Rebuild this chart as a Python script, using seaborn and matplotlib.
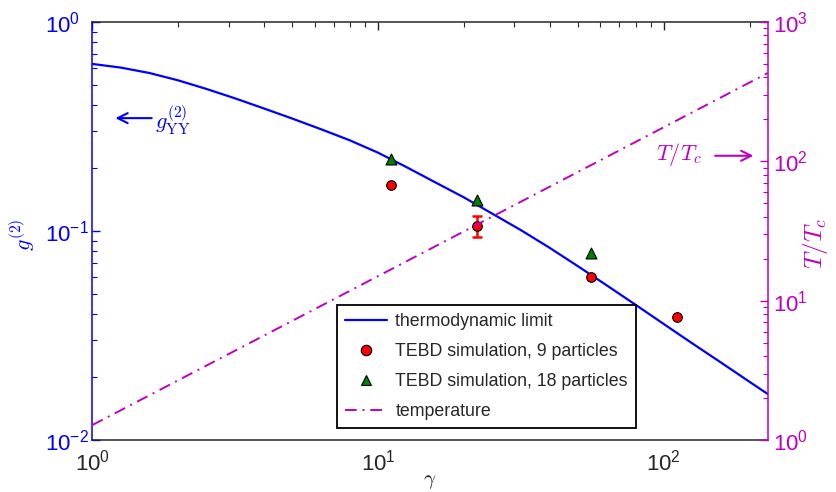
import matplotlib
matplotlib.use("Agg")
import matplotlib.pyplot as plt
import seaborn as sns
import numpy as np
import pandas as pd
from matplotlib.lines import Line2D
from matplotlib.ticker import LogLocator, NullFormatter

# ---------------- data ----------------
gamma_curve = [1, 1.259, 1.585, 1.995, 2.512, 3.162, 3.981, 5.012, 6.310, 7.943,
               10, 12.59, 15.85, 19.95, 25.12, 31.62, 39.81, 50.12, 63.10, 79.43,
               100, 125.9, 158.5, 199.5, 231.2]
g2_curve = [0.630, 0.605, 0.570, 0.526, 0.478, 0.431, 0.386, 0.345, 0.307, 0.272,
            0.237, 0.202, 0.171, 0.145, 0.121, 0.101, 0.0832, 0.0678, 0.0550, 0.0445,
            0.0359, 0.0290, 0.0235, 0.0190, 0.0166]

gamma_9 = [11.1, 22.2, 55.6, 111]
g2_9 = [0.1666, 0.1057, 0.0604, 0.0389]
g2_9_err = [0.0, 0.0124, 0.0, 0.0]

gamma_18 = [11.1, 22.2, 55.6]
g2_18 = [0.221, 0.1406, 0.0787]

gamma_T = [1, 231.2]
T_ratio = [1.28, 430]

xticks = [1, 10, 100]
yticks_left = [0.01, 0.1, 1]
yticks_right = [1, 10, 100, 1000]

legend_labels = ["thermodynamic limit", "TEBD simulation, 9 particles",
                 "TEBD simulation, 18 particles", "temperature"]

# ---------------- style ----------------
sns.set_style("white")
plt.rcParams['font.family'] = ['Liberation Sans', 'DejaVu Sans']
plt.rcParams['mathtext.fontset'] = 'cm'

BLUE = '#0000FF'
MAG = '#C000C0'
RED = '#FF0000'
GREEN = '#008000'
DARK = '#262626'

fig = plt.figure(figsize=(8.37, 4.92), dpi=100)
ax = fig.add_axes([0.1103, 0.1057, 0.8069, 0.8496])
ax2 = ax.twinx()

df_curve = pd.DataFrame({"gamma": gamma_curve, "g2": g2_curve})
df9 = pd.DataFrame({"gamma": gamma_9, "g2": g2_9, "err": g2_9_err})
df18 = pd.DataFrame({"gamma": gamma_18, "g2": g2_18})
dfT = pd.DataFrame({"gamma": gamma_T, "T": T_ratio})

sns.lineplot(data=df_curve, x="gamma", y="g2", ax=ax, color=BLUE, lw=1.6, zorder=3)

err = df9[df9["err"] > 0]
ax.errorbar(err["gamma"], err["g2"], yerr=err["err"], fmt='none', ecolor=RED,
            elinewidth=1.8, capsize=3.8, capthick=1.8, zorder=4)
sns.scatterplot(data=df9, x="gamma", y="g2", ax=ax, marker='o', s=48, color=RED,
                edgecolor='black', linewidth=0.8, zorder=5)
sns.scatterplot(data=df18, x="gamma", y="g2", ax=ax, marker='^', s=62, color=GREEN,
                edgecolor='black', linewidth=0.8, zorder=5)

sns.lineplot(data=dfT, x="gamma", y="T", ax=ax2, color=MAG, lw=1.4)
ax2.lines[-1].set_dashes([6, 3, 1, 3])

ax.set_xscale('log')
ax.set_yscale('log')
ax2.set_yscale('log')

for a, ticks in ((ax, yticks_left), (ax2, yticks_right)):
    a.yaxis.set_major_locator(LogLocator(base=10, subs=(1.0,)))
    a.yaxis.set_minor_locator(LogLocator(base=10, subs=np.arange(2, 10)))
    a.yaxis.set_minor_formatter(NullFormatter())
    a.set_yticks(ticks)
ax.xaxis.set_minor_locator(LogLocator(base=10, subs=np.arange(2, 10)))
ax.xaxis.set_minor_formatter(NullFormatter())
ax.set_xticks(xticks)
ax.set_xlim(1, 231.2)
ax.set_ylim(0.01, 1)
ax2.set_ylim(1, 1000)

# spines
for s in ax.spines.values():
    s.set_linewidth(1.1)
ax.spines['left'].set_color(BLUE)
ax.spines['bottom'].set_color(DARK)
ax.spines['top'].set_color(DARK)
ax.spines['right'].set_visible(False)
for k, s in ax2.spines.items():
    s.set_visible(k == 'right')
ax2.spines['right'].set_color(MAG)
ax2.spines['right'].set_linewidth(1.1)

ax.tick_params(axis='x', which='both', direction='in', top=True, colors=DARK,
               labelsize=16, pad=7)
ax.tick_params(axis='x', which='major', length=6, width=1.0)
ax.tick_params(axis='x', which='minor', length=3.5, width=0.8)
ax.tick_params(axis='y', which='both', direction='in', colors=BLUE, labelsize=16, pad=34)
ax.tick_params(axis='y', which='major', length=6, width=1.0)
ax.tick_params(axis='y', which='minor', length=3.5, width=0.8)
for lab in ax.get_yticklabels():
    lab.set_horizontalalignment('left')
ax2.tick_params(axis='y', which='both', direction='in', colors=MAG, labelsize=16, pad=4)
ax2.tick_params(axis='y', which='major', length=6, width=1.0)
ax2.tick_params(axis='y', which='minor', length=3.5, width=0.8)

ax.set_xlabel(r'$\gamma$', fontsize=15, color=DARK)
ax.xaxis.set_label_coords(0.5, -0.076)
ax.set_ylabel(r'$g^{(2)}$', fontsize=16, color=BLUE)
ax.yaxis.set_label_coords(-0.082, 0.49)
ax2.set_ylabel(r'$T/T_c$', fontsize=18, color=MAG)
ax2.yaxis.set_label_coords(1.05, 0.47)

# annotations
ax.annotate('', xy=(0.030, 0.770), xytext=(0.092, 0.770), xycoords='axes fraction',
            arrowprops=dict(arrowstyle='->', color=BLUE, lw=1.5, mutation_scale=18))
ax.text(0.093, 0.765, r'$g_{\mathrm{YY}}^{(2)}$', transform=ax.transAxes, fontsize=16,
        color=BLUE, ha='left', va='center')
ax.text(0.868, 0.682, r'$T/T_c$', transform=ax.transAxes, fontsize=16,
        color=MAG, ha='center', va='center')
ax.annotate('', xy=(0.983, 0.680), xytext=(0.918, 0.680), xycoords='axes fraction',
            arrowprops=dict(arrowstyle='->', color=MAG, lw=1.5, mutation_scale=18))

# legend
handles = [
    Line2D([], [], color=BLUE, lw=1.6),
    Line2D([], [], ls='none', marker='o', markersize=7.5, markerfacecolor=RED,
           markeredgecolor='black', markeredgewidth=0.8),
    Line2D([], [], ls='none', marker='^', markersize=7.5, markerfacecolor=GREEN,
           markeredgecolor='black', markeredgewidth=0.8),
    Line2D([], [], color=MAG, lw=1.4, dashes=[6, 3, 1, 3]),
]
leg = ax2.legend(handles, legend_labels, loc='lower left', bbox_to_anchor=(0.362, 0.029),
                 borderaxespad=0, fontsize=12.8, frameon=True, fancybox=False,
                 handlelength=2.4, handletextpad=0.45, labelspacing=0.72,
                 borderpad=0.45, labelcolor=DARK)
leg.get_frame().set_edgecolor('black')
leg.get_frame().set_linewidth(1.3)
leg.get_frame().set_alpha(1)

fig.savefig('out.png', dpi=100)
